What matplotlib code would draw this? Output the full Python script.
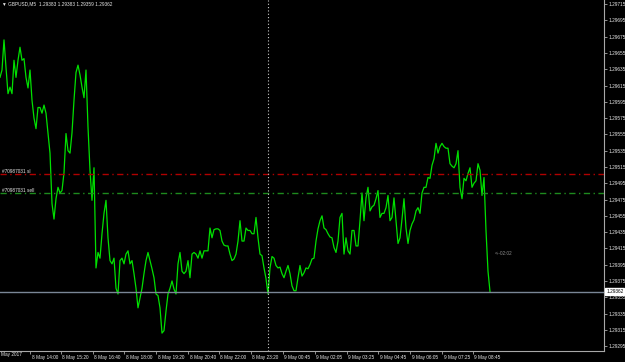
import matplotlib
matplotlib.use("Agg")
import matplotlib.pyplot as plt
import matplotlib.transforms as mtransforms

plt.rcParams['font.family'] = ['Liberation Sans', 'DejaVu Sans']

SYMBOL_TITLE = "GBPUSD,M5  1.29383 1.29383 1.29359 1.29362"

# close prices, one per 5 minute bar
closes = [
    1.29625, 1.29634, 1.29671, 1.29637, 1.29605, 1.29613, 1.29605, 1.29646, 1.29625, 1.29646,
    1.29662, 1.29646, 1.29648, 1.29625, 1.29612, 1.29634, 1.29597, 1.29575, 1.29562, 1.29588,
    1.29588, 1.29581, 1.29591, 1.29581, 1.29556, 1.29532, 1.29470, 1.29451, 1.29476, 1.29490,
    1.29483, 1.29486, 1.29508, 1.29556, 1.29535, 1.29532, 1.29557, 1.29597, 1.29631, 1.29640,
    1.29628, 1.29613, 1.29600, 1.29634, 1.29564, 1.29511, 1.29474, 1.29514, 1.29391, 1.29410,
    1.29403, 1.29433, 1.29458, 1.29474, 1.29428, 1.29400, 1.29396, 1.29403, 1.29366, 1.29359,
    1.29400, 1.29403, 1.29396, 1.29408, 1.29412, 1.29396, 1.29400, 1.29384, 1.29366, 1.29342,
    1.29354, 1.29366, 1.29384, 1.29400, 1.29410, 1.29400, 1.29390, 1.29379, 1.29359, 1.29357,
    1.29342, 1.29311, 1.29314, 1.29338, 1.29359, 1.29366, 1.29375, 1.29365, 1.29359, 1.29396,
    1.29410, 1.29387, 1.29384, 1.29387, 1.29400, 1.29379, 1.29408, 1.29410, 1.29408, 1.29403,
    1.29412, 1.29403, 1.29412, 1.29412, 1.29412, 1.29440, 1.29428, 1.29438, 1.29439, 1.29439,
    1.29437, 1.29424, 1.29419, 1.29418, 1.29418, 1.29408, 1.29400, 1.29402, 1.29408, 1.29424,
    1.29449, 1.29424, 1.29424, 1.29440, 1.29437, 1.29437, 1.29433, 1.29433, 1.29453, 1.29428,
    1.29408, 1.29406, 1.29391, 1.29378, 1.29359, 1.29391, 1.29405, 1.29403, 1.29394, 1.29391,
    1.29392, 1.29384, 1.29379, 1.29387, 1.29394, 1.29384, 1.29369, 1.29363, 1.29363, 1.29379,
    1.29394, 1.29381, 1.29385, 1.29391, 1.29390, 1.29395, 1.29402, 1.29403, 1.29424, 1.29439,
    1.29449, 1.29455, 1.29440, 1.29438, 1.29433, 1.29429, 1.29428, 1.29416, 1.29410, 1.29424,
    1.29453, 1.29458, 1.29408, 1.29428, 1.29412, 1.29408, 1.29437, 1.29437, 1.29418, 1.29418,
    1.29449, 1.29483, 1.29449, 1.29477, 1.29490, 1.29461, 1.29466, 1.29468, 1.29476, 1.29486,
    1.29453, 1.29458, 1.29458, 1.29465, 1.29480, 1.29449, 1.29453, 1.29477, 1.29449, 1.29421,
    1.29428, 1.29451, 1.29476, 1.29440, 1.29421, 1.29437, 1.29445, 1.29450, 1.29461, 1.29465,
    1.29458, 1.29483, 1.29490, 1.29490, 1.29502, 1.29501, 1.29517, 1.29525, 1.29544, 1.29532,
    1.29540, 1.29544, 1.29540, 1.29538, 1.29538, 1.29519, 1.29516, 1.29514, 1.29519, 1.29535,
    1.29490, 1.29476, 1.29501, 1.29498, 1.29507, 1.29514, 1.29490, 1.29495, 1.29498, 1.29519,
    1.29511, 1.29480, 1.29502, 1.29437, 1.29387, 1.29362,
]

last_price = 1.29362
sl_price = 1.29506
sell_price = 1.29483
order_label = "#70987031"
timer_text = "<--02:02"
timer_price = 1.29409
timer_bar = 247.5
separator_bar = 134
visible_bars = 302

first_date_label = "May 2017"
time_tick_bars = [15, 30.5, 46.5, 62, 78, 94, 109.5, 125.5, 141.5, 157.5,
                  173.5, 189, 205, 221, 236.5]
time_tick_labels = ["8 May 14:00", "8 May 15:20", "8 May 16:40", "8 May 18:00",
                    "8 May 19:20", "8 May 20:40", "8 May 22:00", "8 May 23:20",
                    "9 May 00:45", "9 May 02:05", "9 May 03:25", "9 May 04:45",
                    "9 May 06:05", "9 May 07:25", "9 May 08:45"]

price_ticks = [1.29295, 1.29315, 1.29335, 1.29355, 1.29375, 1.29395, 1.29415,
               1.29435, 1.29455, 1.29475, 1.29495, 1.29515, 1.29535, 1.29555,
               1.29575, 1.29595, 1.29615, 1.29635, 1.29655, 1.29675, 1.29695,
               1.29715]

AXIS_COLOR = "#a8a8a8"
TEXT_COLOR = "#e8e8e8"
FS = 3.4


fig = plt.figure(figsize=(6.25, 3.62), dpi=100, facecolor="black")
ax = fig.add_axes([0, 11 / 362, 604 / 625, 351 / 362])
ax.set_facecolor("black")

bars = list(range(len(closes)))
ax.plot(bars, closes, color="#00e000", lw=0.9)

# price level lines
ax.axhline(last_price, color="#7a8696", lw=1.0)
ax.axhline(sl_price, color="#b00000", lw=1.0, dashes=(4.5, 2.5, 1, 2.5))
ax.axhline(sell_price, color="#1e8a1e", lw=1.0, dashes=(4.5, 2.5, 1, 2.5))
ax.axvline(separator_bar, color="#d0d0d0", lw=0.8, linestyle=(0, (1, 2)))

ax.text(1, sl_price, order_label + " sl", color=TEXT_COLOR, fontsize=FS,
        va="bottom", ha="left")
ax.text(1, sell_price, order_label + " sell", color=TEXT_COLOR, fontsize=FS,
        va="bottom", ha="left")
ax.text(timer_bar, timer_price, timer_text, color="#8c8c8c", fontsize=FS,
        va="center", ha="left")

ax.set_xlim(0, visible_bars)
ax.set_ylim(1.29289, 1.29720)

for side in ["top", "left"]:
    ax.spines[side].set_visible(False)
for side in ["bottom", "right"]:
    ax.spines[side].set_color(AXIS_COLOR)
    ax.spines[side].set_linewidth(0.8)

ax.yaxis.tick_right()
ax.set_yticks(price_ticks)
ax.set_yticklabels(["%.5f" % p for p in price_ticks])
ax.tick_params(axis="y", direction="out", length=2, width=0.6, pad=1.5,
               color=AXIS_COLOR, labelcolor=TEXT_COLOR, labelsize=FS)

ax.set_xticks(time_tick_bars)
ax.set_xticklabels(time_tick_labels)
ax.tick_params(axis="x", direction="out", length=2.5, width=0.6, pad=0.3,
               color=AXIS_COLOR, labelcolor=TEXT_COLOR, labelsize=FS)
shift = mtransforms.ScaledTranslation(1.5 / 100, 0, fig.dpi_scale_trans)
for lbl in ax.get_xticklabels():
    lbl.set_ha("left")
    lbl.set_transform(lbl.get_transform() + shift)

bottom_trans = mtransforms.blended_transform_factory(ax.transData, ax.transAxes)
ax.text(0.6, -0.004, first_date_label, transform=bottom_trans,
        color=TEXT_COLOR, fontsize=FS, ha="left", va="top")

# current price box on the price scale
ax.annotate("%.5f" % last_price, xy=(1, last_price),
            xycoords=("axes fraction", "data"), xytext=(1.5, 0),
            textcoords="offset points", ha="left", va="center",
            fontsize=FS, color="black",
            bbox=dict(boxstyle="square,pad=0.15", fc="white", ec="white"))

fig.text(2 / 625, 1 - 4 / 362, "\u25bc " + SYMBOL_TITLE, color=TEXT_COLOR,
         fontsize=FS, ha="left", va="center")

fig.savefig("out.png", dpi=100, facecolor="black")
